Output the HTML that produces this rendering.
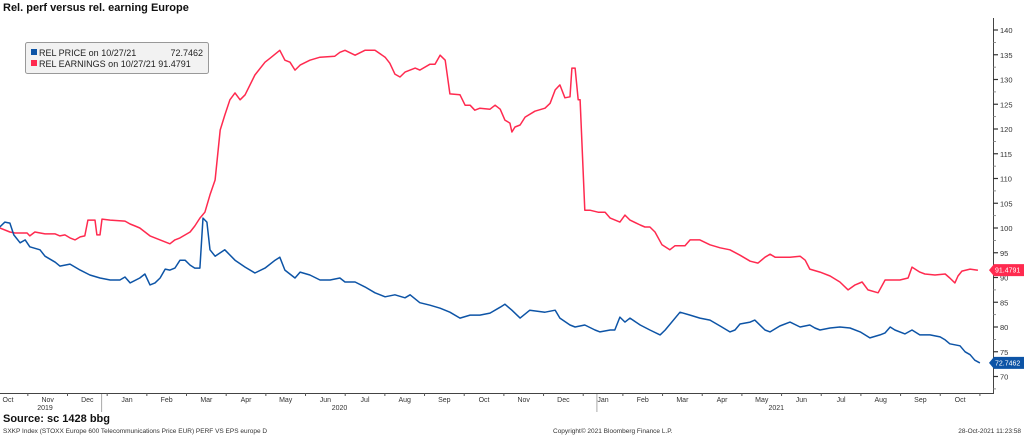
<!DOCTYPE html>
<html><head><meta charset="utf-8"><style>
body{margin:0;background:#fff;font-family:"Liberation Sans",sans-serif}
svg text{font-family:"Liberation Sans",sans-serif}
</style></head><body>
<svg width="1024" height="435" viewBox="0 0 1024 435" xmlns="http://www.w3.org/2000/svg">
<text x="3" y="11" font-size="11" font-weight="bold" fill="#111">Rel. perf versus rel. earning Europe</text>
<g id="plot"></g>
<g>
<rect x="25.5" y="42.5" width="183" height="31" fill="#f2f2f2" stroke="#999" rx="2"/>
<rect x="31" y="49" width="6" height="6" fill="#0d54a6"/>
<text x="39" y="56" font-size="9" fill="#222">REL PRICE on 10/27/21</text>
<text x="203" y="56" font-size="9" fill="#222" text-anchor="end">72.7462</text>
<rect x="31" y="60" width="6" height="6" fill="#ff2a4f"/>
<text x="39" y="67" font-size="9" fill="#222">REL EARNINGS on 10/27/21 91.4791</text>
</g>
<text x="3" y="422" font-size="11" font-weight="bold" fill="#111">Source: sc 1428 bbg</text>
<text x="3" y="433" font-size="6.5" fill="#333">SXKP Index (STOXX Europe 600 Telecommunications Price EUR) PERF VS EPS europe  D</text>
<text x="553" y="433" font-size="6.5" fill="#333">Copyright© 2021 Bloomberg Finance L.P.</text>
<text x="1021" y="433" font-size="6.5" fill="#333" text-anchor="end">28-Oct-2021 11:23:58</text>
</svg>
<script>
const priceT=[-0.21,-0.08,0.05,0.15,0.31,0.44,0.56,0.82,0.95,1.21,1.33,1.59,1.85,2.10,2.36,2.62,2.87,3.00,3.13,3.38,3.51,3.64,3.77,3.90,4.03,4.15,4.28,4.41,4.54,4.67,4.79,4.92,5.00,5.10,5.18,5.31,5.56,5.82,6.08,6.33,6.59,6.85,6.97,7.10,7.36,7.49,7.74,8.00,8.26,8.51,8.64,8.90,9.15,9.41,9.67,9.92,10.18,10.31,10.56,10.82,11.08,11.33,11.59,11.85,12.10,12.36,12.62,12.74,12.92,13.13,13.38,13.77,14.03,14.15,14.41,14.54,14.79,15.05,15.18,15.44,15.56,15.69,15.82,15.95,16.21,16.46,16.72,16.85,17.23,17.49,17.74,18.00,18.26,18.51,18.64,18.77,19.03,19.15,19.41,19.54,19.79,20.05,20.31,20.56,20.69,20.82,21.08,21.33,21.59,21.85,22.10,22.36,22.49,22.62,22.74,23.00,23.18,23.38,23.64,23.90,24.03,24.15,24.28,24.41,24.54,24.67,24.79,24.92];
const priceV=[100.2,101.2,101.0,98.6,97.0,97.6,96.2,95.6,94.3,93.1,92.3,92.7,91.5,90.5,89.9,89.5,89.5,90.1,88.9,89.9,90.7,88.5,88.9,89.9,91.7,91.5,91.9,93.5,93.5,92.5,91.9,91.9,102.0,101.2,95.6,94.3,95.6,93.5,92.1,90.9,91.9,93.5,94.1,91.5,89.9,91.1,90.5,89.5,89.5,89.9,89.1,89.1,88.1,86.9,86.1,86.5,85.9,86.5,84.9,84.4,83.8,83.0,81.8,82.4,82.4,82.8,84.0,84.6,83.4,81.8,83.4,83.0,83.4,81.8,80.4,80.0,80.4,79.4,79.0,79.4,79.4,82.0,81.0,81.8,80.4,79.4,78.4,79.4,83.0,82.4,81.8,81.4,80.2,79.0,79.4,80.6,81.0,81.4,79.4,79.0,80.2,81.0,80.0,80.4,79.8,79.4,79.8,80.0,79.8,79.0,77.8,78.4,78.8,80.0,79.4,78.6,79.4,78.4,78.4,78.0,77.4,76.6,76.4,76.2,75.0,74.4,73.3,72.75];
const earnT=[-0.21,0.05,0.18,0.49,0.56,0.69,0.95,1.21,1.33,1.46,1.59,1.72,1.85,1.97,2.05,2.23,2.28,2.36,2.41,2.62,3.00,3.13,3.26,3.38,3.64,3.90,4.15,4.28,4.41,4.67,4.79,4.92,5.05,5.18,5.31,5.44,5.56,5.69,5.82,5.95,6.08,6.33,6.59,6.72,6.97,7.10,7.23,7.36,7.49,7.74,8.00,8.38,8.51,8.64,8.90,9.15,9.41,9.67,9.79,9.92,10.05,10.18,10.44,10.56,10.82,10.95,11.08,11.21,11.33,11.59,11.72,11.85,11.97,12.10,12.36,12.49,12.62,12.74,12.87,12.92,13.00,13.13,13.26,13.51,13.77,13.90,14.03,14.15,14.28,14.41,14.46,14.54,14.62,14.67,14.79,14.92,15.13,15.31,15.44,15.69,15.82,15.95,16.21,16.33,16.46,16.59,16.77,16.97,17.10,17.36,17.49,17.74,18.00,18.26,18.51,18.77,19.03,19.23,19.41,19.54,19.67,20.05,20.31,20.44,20.56,20.82,21.08,21.33,21.54,21.72,21.90,22.05,22.31,22.49,22.87,23.08,23.18,23.38,23.51,23.77,24.03,24.15,24.28,24.36,24.46,24.67,24.87];
const earnV=[100.0,99.2,99.0,99.0,98.4,99.2,98.8,98.8,98.4,98.6,98.0,97.6,98.2,98.4,101.6,101.6,98.6,98.6,101.8,101.6,101.4,100.8,100.4,100.0,98.4,97.6,96.8,97.6,98.0,99.2,100.4,102.0,103.2,106.7,109.7,119.8,122.8,125.9,127.3,125.9,126.9,130.9,133.5,134.3,135.9,133.9,133.5,131.9,132.9,133.9,134.5,134.7,135.5,135.9,134.9,135.9,135.9,134.5,133.3,131.1,130.5,131.5,132.3,131.9,133.1,133.1,134.9,133.9,127.1,126.9,124.8,124.8,123.8,124.2,124.0,124.8,124.0,121.8,121.2,119.4,120.4,120.8,122.4,123.6,124.2,125.2,127.9,128.9,126.3,126.5,132.3,132.3,125.9,125.9,103.6,103.6,103.2,103.2,102.0,101.2,102.6,101.6,100.6,100.2,100.2,99.2,96.6,95.6,96.4,96.4,97.6,97.6,96.6,96.0,95.6,94.5,93.3,92.9,94.1,94.7,94.1,94.1,94.3,93.5,91.7,91.1,90.3,89.1,87.5,88.5,89.1,87.5,86.9,89.5,89.5,89.9,92.1,91.1,90.7,90.5,90.7,89.9,88.9,90.3,91.3,91.7,91.48];
const yTicks=[70,75,80,85,90,95,100,105,110,115,120,125,130,135,140];
const monthLabels=["Oct","Nov","Dec","Jan","Feb","Mar","Apr","May","Jun","Jul","Aug","Sep","Oct","Nov","Dec","Jan","Feb","Mar","Apr","May","Jun","Jul","Aug","Sep","Oct"];
const yearLabels=["2019","2020","2021"];
const yearMid=[0.95,8.5,19.7];
const yearBreaks=[2.4,15.1];

const NS="http://www.w3.org/2000/svg";
const g=document.getElementById('plot');
const xs=t=>8+t*39;
const ys=v=>30+(140-v)*4.95;
function el(tag,attrs,parent){const e=document.createElementNS(NS,tag);for(const k in attrs)e.setAttribute(k,attrs[k]);(parent||g).appendChild(e);return e;}
const ax=el('line',{x1:993.5,y1:18,x2:993.5,y2:393,stroke:'#444','stroke-width':1});


const bx=el('line',{x1:0,y1:393.5,x2:994,y2:393.5,stroke:'#444','stroke-width':1});


yTicks.forEach(v=>{
  const y=ys(v);
  el('line',{x1:993,y1:y,x2:998,y2:y,stroke:'#333','stroke-width':1.2});
  el('line',{x1:993,y1:y+12.4,x2:996,y2:y+12.4,stroke:'#777','stroke-width':0.8});
  const t=el('text',{x:1000,y:y+3,'font-size':7.5,fill:'#333'});
  t.textContent=v;
  
  
});
monthLabels.forEach((m,k)=>{
  const tt=k*39.67/39;
  const t=el('text',{x:xs(tt),y:402,'font-size':7,fill:'#333','text-anchor':'middle'});
  t.textContent=m;
  
  
  const bxp=xs(tt+0.5*39.67/39);
  el('line',{x1:bxp,y1:393,x2:bxp,y2:396,stroke:'#555','stroke-width':1});
});
yearLabels.forEach((y,i)=>{
  const t=el('text',{x:xs(yearMid[i]),y:410,'font-size':7,fill:'#333','text-anchor':'middle'});
  t.textContent=y;
  
  
});
yearBreaks.forEach(b=>el('line',{x1:xs(b),y1:394,x2:xs(b),y2:412,stroke:'#aaa','stroke-width':1}));
function line(T,V,color,name){
  const d=T.map((t,i)=>(i?'L':'M')+xs(t).toFixed(1)+','+ys(V[i]).toFixed(1)).join('');
  const p=el('path',{d:d,fill:'none',stroke:color,'stroke-width':1.5,'stroke-linejoin':'round'});
  
  
}
line(earnT,earnV,'#ff2a4f','earnings-line');
line(priceT,priceV,'#0d54a6','price-line');
function badge(v,color,name){
  const y=ys(v);
  const p=el('path',{d:`M989,${y} L994,${y-6} L1024,${y-6} L1024,${y+6} L994,${y+6} Z`,fill:color});
  
  
  const t=el('text',{x:995,y:y+2.5,'font-size':7,fill:'#fff'});
  t.textContent=v.toFixed(4);
}
badge(91.4791,'#ff2a4f','earnings-last-value');
badge(72.7462,'#0d54a6','price-last-value');
</script>
</body></html>
